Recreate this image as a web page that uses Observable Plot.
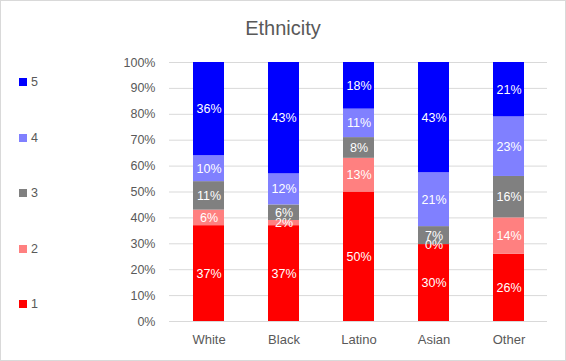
<!DOCTYPE html>
<html>
<head>
<meta charset="utf-8">
<script src="https://cdn.jsdelivr.net/npm/d3@7"></script>
<script src="https://cdn.jsdelivr.net/npm/@observablehq/plot@0.6"></script>
<style>
  html, body { margin: 0; padding: 0; background: #fff; }
  #chart { position: relative; width: 566px; height: 361px; font-family: "Liberation Sans", Arial, sans-serif; overflow: hidden; }
  #title { position: absolute; left: 0; top: 16px; width: 566px; text-align: center; font-size: 20px; line-height: 24px; color: #595959; }
  .leg { position: absolute; left: 19px; height: 16px; line-height: 16px; font-size: 12.5px; color: #595959; }
  .leg span.sw { position: absolute; left: 0; top: 4px; width: 8px; height: 8px; }
  .leg span.lb { position: absolute; left: 12px; top: 0; }
  #border { position: absolute; left: 0; top: 0; width: 566px; height: 361px; box-sizing: border-box; border: 1px solid #d9d9d9; pointer-events: none; }
</style>
</head>
<body>
<div id="chart"></div>
<script>
const title = "Ethnicity";
const categories = ["White", "Black", "Latino", "Asian", "Other"];
const levels = ["1", "2", "3", "4", "5"];
const level1 = [37, 37, 50, 30, 26];
const level2 = [6, 2, 13, 0, 14];
const level3 = [11, 6, 8, 7, 16];
const level4 = [10, 12, 11, 21, 23];
const level5 = [36, 43, 18, 43, 21];
const colors = ["#ff0000", "#ff8080", "#808080", "#8080ff", "#0000ff"];
const yTicks = [0, 0.1, 0.2, 0.3, 0.4, 0.5, 0.6, 0.7, 0.8, 0.9, 1];

const series = [level1, level2, level3, level4, level5];
const data = [];
categories.forEach((c, i) => {
  levels.forEach((l, j) => {
    data.push({ category: c, level: l, value: series[j][i] });
  });
});

const stackOpts = { offset: "normalize" };

const plot = Plot.plot({
  width: 566,
  height: 361,
  marginLeft: 169,
  marginRight: 19,
  marginTop: 62,
  marginBottom: 40,
  style: { fontFamily: "Liberation Sans, Arial, sans-serif", fontSize: "12.5px", background: "transparent", color: "#595959" },
  x: { domain: categories, paddingInner: 0.59, paddingOuter: 0.295, label: null },
  y: { domain: [0, 1], label: null },
  color: { domain: levels, range: colors },
  marks: [
    Plot.gridY(yTicks, { stroke: "#d9d9d9", strokeOpacity: 1 }),
    Plot.barY(data, Plot.stackY(stackOpts, { x: "category", y: "value", fill: "level", z: "level" })),
    Plot.text(data, Plot.stackY(stackOpts, { x: "category", y: "value", z: "level", text: d => d.value + "%", fill: "white", fontSize: 12.5 })),
    Plot.axisY(yTicks, { tickSize: 0, tickPadding: 14, tickFormat: d3.format(".0%"), label: null, fill: "#595959", fontSize: 12.5 }),
    Plot.axisX({ tickSize: 0, tickPadding: 13, label: null, fill: "#595959", fontSize: 13 })
  ]
});

const chart = document.getElementById("chart");
plot.style.position = "absolute";
plot.style.left = "0";
plot.style.top = "0";
chart.appendChild(plot);

const t = document.createElement("div");
t.id = "title";
t.textContent = title;
chart.appendChild(t);

// legend (top to bottom: 5 .. 1)
const legendOrder = levels.slice().reverse();
legendOrder.forEach((l, k) => {
  const idx = levels.indexOf(l);
  const d = document.createElement("div");
  d.className = "leg";
  d.style.top = (82 + k * 55.5 - 8) + "px";
  const sw = document.createElement("span");
  sw.className = "sw";
  sw.style.background = colors[idx];
  const lb = document.createElement("span");
  lb.className = "lb";
  lb.textContent = l;
  d.appendChild(sw);
  d.appendChild(lb);
  chart.appendChild(d);
});

const b = document.createElement("div");
b.id = "border";
chart.appendChild(b);
</script>
</body>
</html>
